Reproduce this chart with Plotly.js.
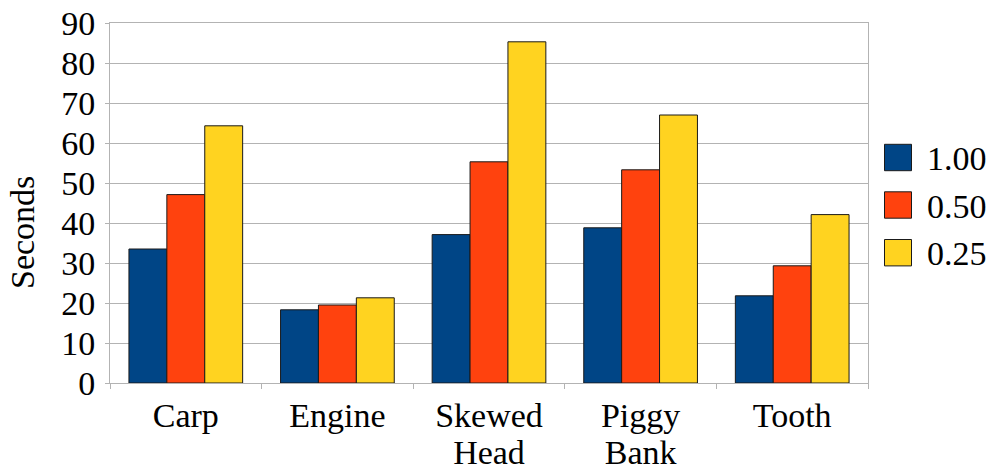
<!DOCTYPE html>
<html>
<head>
<meta charset="utf-8">
<script src="https://cdn.plot.ly/plotly-3.0.1.min.js"></script>
<style>
  html, body { margin: 0; padding: 0; background: #fff; }
  #chart { width: 991px; height: 470px; }
</style>
</head>
<body>
<div id="chart"></div>
<script>
// Models and timings (seconds) per step size
const categories = ["Carp", "Engine", "Skewed<br>Head", "Piggy<br>Bank", "Tooth"];
const seriesNames = ["1.00", "0.50", "0.25"];
const step100 = [33.5, 18.3, 37.1, 38.8, 21.8];
const step050 = [47.1, 19.5, 55.3, 53.3, 29.3];
const step025 = [64.3, 21.3, 85.3, 67.0, 42.1];
const yTicks = [0, 10, 20, 30, 40, 50, 60, 70, 80, 90];

const seriesValues = [step100, step050, step025];
const colors = ["#004586", "#ff420e", "#ffd320"];
const FONT = "Liberation Serif";
const GRID = "#b3b3b3";

// plot-area geometry in pixels
const W = 991, H = 470;
const M = { l: 110, r: 123, t: 23, b: 87 };
const PW = W - M.l - M.r, PH = H - M.t - M.b;
const px2x = (px) => (px - M.l) / PW;
const px2y = (py) => (H - M.b - py) / PH;

const traces = seriesNames.map((name, i) => ({
  type: "bar",
  name: name,
  x: categories,
  y: seriesValues[i],
  marker: { color: colors[i], line: { color: "#1a1a1a", width: 1 } },
  hoverinfo: "x+y+name",
  showlegend: false
}));

// legend: swatches + labels on the right
const shapes = [];
const annotations = [];
const rowCenters = [157.5, 205, 252.7];
seriesNames.forEach((name, i) => {
  const c = rowCenters[i];
  shapes.push({
    type: "rect", xref: "paper", yref: "paper",
    x0: px2x(884.5), x1: px2x(911.5),
    y0: px2y(c + 13.2), y1: px2y(c - 13.2),
    fillcolor: colors[i], line: { color: "#1a1a1a", width: 1 }
  });
  annotations.push({
    xref: "paper", yref: "paper",
    x: px2x(925), y: px2y(c + 1),
    xanchor: "left", yanchor: "middle",
    text: name, showarrow: false,
    font: { family: FONT, size: 34, color: "#000" }
  });
});

// y axis title
annotations.push({
  xref: "paper", yref: "paper",
  x: px2x(22.5), y: px2y(232.5),
  xanchor: "center", yanchor: "middle",
  text: "Seconds", textangle: -90, showarrow: false,
  font: { family: FONT, size: 34, color: "#000" }
});

const layout = {
  width: W, height: H,
  margin: M,
  paper_bgcolor: "#fff",
  plot_bgcolor: "#fff",
  barmode: "group",
  bargap: 0.25,
  bargroupgap: 0,
  font: { family: FONT, size: 34, color: "#000" },
  xaxis: {
    type: "category",
    showgrid: false,
    showline: true, linecolor: GRID, linewidth: 1, mirror: true,
    ticks: "outside", tickson: "boundaries", ticklen: 5, tickcolor: GRID, tickwidth: 1,
    tickfont: { family: FONT, size: 34, color: "#000" },
    ticklabelstandoff: 2,
    fixedrange: true
  },
  yaxis: {
    range: [0, 90],
    tickvals: yTicks,
    ticktext: yTicks.map(String),
    showgrid: true, gridcolor: GRID, gridwidth: 1,
    zeroline: false,
    showline: true, linecolor: GRID, linewidth: 1, mirror: true,
    ticks: "outside", ticklen: 4, tickcolor: GRID, tickwidth: 1,
    tickfont: { family: FONT, size: 34, color: "#000" },
    ticklabelstandoff: 3,
    fixedrange: true
  },
  shapes: shapes,
  annotations: annotations,
  showlegend: false
};

Plotly.newPlot("chart", traces, layout, { staticPlot: true }).then(() => {
  // tighten the line spacing of two-line category labels
  document.querySelectorAll(".xtick text").forEach((t) => {
    const lines = t.querySelectorAll("tspan.line");
    lines.forEach((ln, k) => { if (k > 0) ln.setAttribute("dy", "1.08em"); });
  });
});
</script>
</body>
</html>
